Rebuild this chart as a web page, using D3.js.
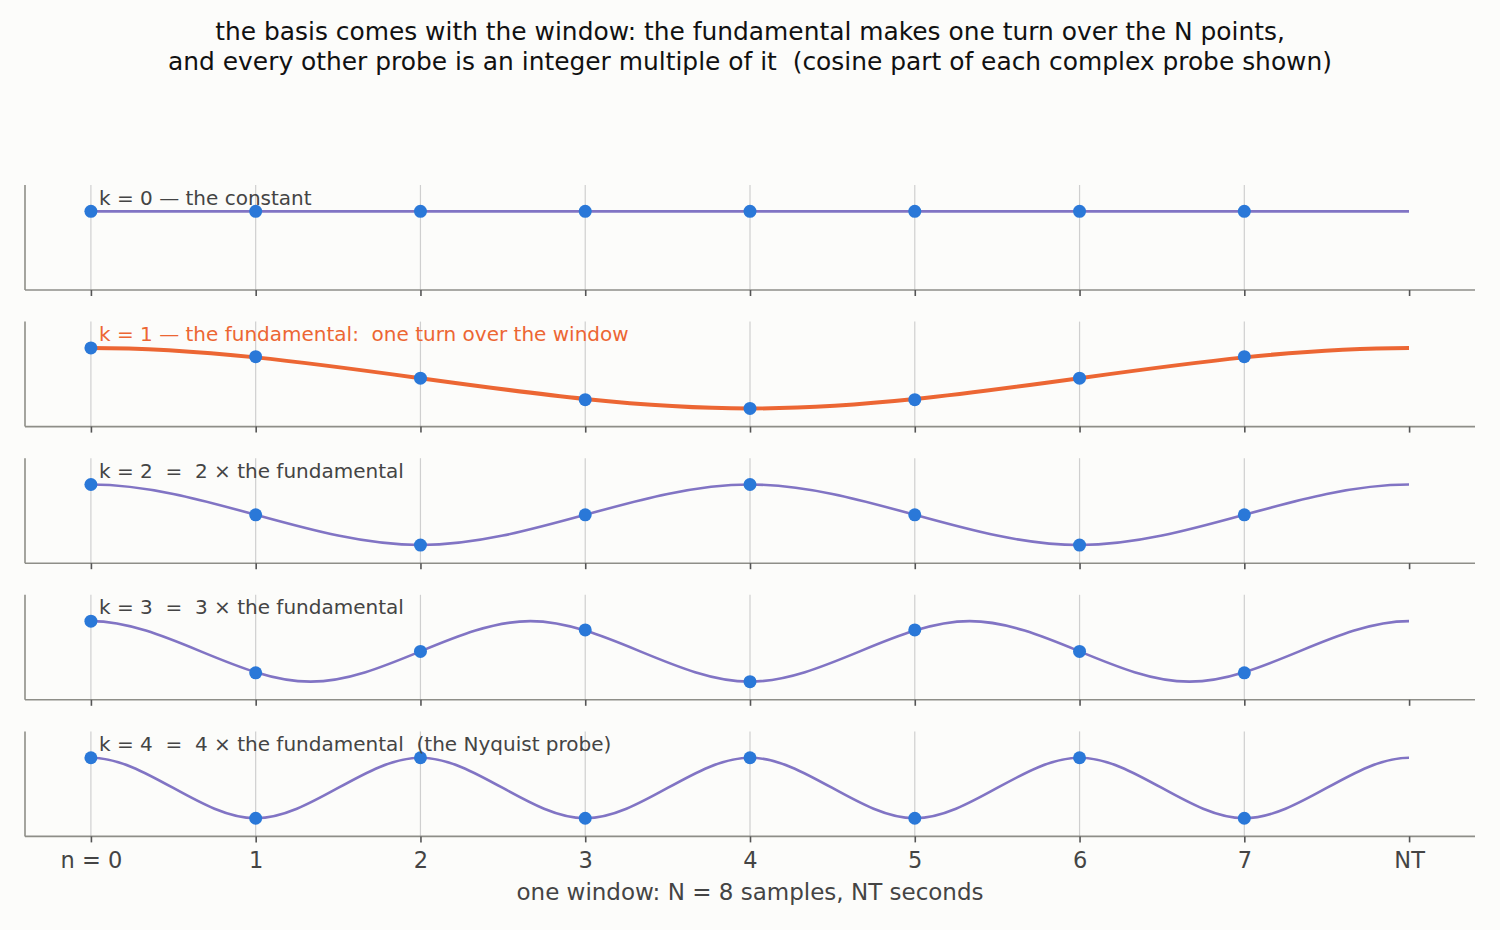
<!DOCTYPE html>
<html lang="en">
<head>
  <meta charset="utf-8">
  <title>basis comes with the window</title>
  <script src="https://d3js.org/d3.v7.min.js"></script>
  <style>
body { margin: 0; background: #fcfcfa; font-family: "DejaVu Sans", sans-serif; }
text { white-space: pre; font-family: "DejaVu Sans", sans-serif; }
</style>
</head>
<body>
<div id="chart"></div>
<script>

// tick labels along the window
var tickLabels = ["n = 0", "1", "2", "3", "4", "5", "6", "7", "NT"];
var sampleIdx = [0, 1, 2, 3, 4, 5, 6, 7];

// panel titles
var panelTitles = [
  "k = 0 \u2014 the constant",
  "k = 1 \u2014 the fundamental:  one turn over the window",
  "k = 2  =  2 \u00d7 the fundamental",
  "k = 3  =  3 \u00d7 the fundamental",
  "k = 4  =  4 \u00d7 the fundamental  (the Nyquist probe)"
];

// sample values (cosine part)
var samplesK0 = [1, 1, 1, 1, 1, 1, 1, 1];
var samplesK1 = [1, 0.71, 0, -0.71, -1, -0.71, 0, 0.71];
var samplesK2 = [1, 0, -1, 0, 1, 0, -1, 0];
var samplesK3 = [1, -0.71, 0, 0.71, -1, 0.71, 0, -0.71];
var samplesK4 = [1, -1, 1, -1, 1, -1, 1, -1];

// turning points of each continuous probe (position, value),
// one turning point past each end of the window so the ends come out flat
var curveK0 = [[0, 1], [8, 1]];
var curveK1 = [[-4, -1], [0, 1], [4, -1], [8, 1], [12, -1]];
var curveK2 = [[-2, -1], [0, 1], [2, -1], [4, 1], [6, -1], [8, 1], [10, -1]];
var curveK3 = [[-1.333, -1], [0, 1], [1.333, -1], [2.667, 1], [4, -1], [5.333, 1], [6.667, -1], [8, 1], [9.333, -1]];
var curveK4 = [[-1, -1], [0, 1], [1, -1], [2, 1], [3, -1], [4, 1], [5, -1], [6, 1], [7, -1], [8, 1], [9, -1]];

var samples = [samplesK0, samplesK1, samplesK2, samplesK3, samplesK4];
var curves = [curveK0, curveK1, curveK2, curveK3, curveK4];

var W = 1500, H = 930;
var left = 25, right = 1475;
var panelTop0 = 185, panelH = 105, panelStep = 136.6;

var purple = "#8174c4", orange = "#ec6633", blue = "#2a78d8";

var svg = d3.select("#chart").append("svg")
  .attr("width", W).attr("height", H)
  .style("background", "#fcfcfa");

// title
svg.append("text").attr("x", 750).attr("y", 40).attr("text-anchor", "middle")
  .style("font-size", "24.9px").attr("fill", "#111")
  .text("the basis comes with the window: the fundamental makes one turn over the N points,");
svg.append("text").attr("x", 750).attr("y", 70).attr("text-anchor", "middle")
  .style("font-size", "24.9px").attr("fill", "#111")
  .text("and every other probe is an integer multiple of it  (cosine part of each complex probe shown)");

var x = d3.scaleLinear().domain([-0.4, 8.4]).range([left, right]);

var defs = svg.append("defs");
defs.append("clipPath").attr("id", "win")
  .append("rect").attr("x", x(0)).attr("y", 0)
  .attr("width", x(8) - x(0)).attr("height", H);

samples.forEach(function(vals, k) {
  var top = panelTop0 + k * panelStep;
  var y = d3.scaleLinear().domain([-1.6, 1.87]).range([top + panelH, top]);
  var g = svg.append("g");

  // vertical gridlines at the samples
  g.selectAll(".grid").data(sampleIdx).enter().append("line")
    .attr("x1", function(d) { return x(d); }).attr("x2", function(d) { return x(d); })
    .attr("y1", top).attr("y2", top + panelH)
    .attr("stroke", "#cfcfcf").attr("stroke-width", 1.2);

  // x axis
  var ax = g.append("g").attr("transform", "translate(0," + (top + panelH) + ")")
    .call(d3.axisBottom(x).tickValues(d3.range(9)).tickSize(6).tickPadding(10)
      .tickFormat(function(d, i) { return k == 4 ? tickLabels[i] : ""; }));
  ax.select(".domain").attr("stroke", "#8e8e88").attr("stroke-width", 1.6)
    .attr("d", "M" + left + ",0H" + right);
  ax.selectAll(".tick line").attr("stroke", "#555").attr("stroke-width", 1.6);
  ax.selectAll(".tick text").attr("fill", "#444")
    .style("font-size", "22.5px").style("font-family", "DejaVu Sans");

  // left spine
  g.append("line").attr("x1", left).attr("x2", left)
    .attr("y1", top).attr("y2", top + panelH)
    .attr("stroke", "#8e8e88").attr("stroke-width", 1.6);

  // continuous probe
  g.append("path").datum(curves[k])
    .attr("clip-path", "url(#win)")
    .attr("d", d3.line().curve(d3.curveMonotoneX)
      .x(function(d) { return x(d[0]); })
      .y(function(d) { return y(d[1]); }))
    .attr("fill", "none")
    .attr("stroke", k == 1 ? orange : purple)
    .attr("stroke-width", k == 1 ? 4 : 2.6);

  // samples
  g.selectAll(".dot").data(vals).enter().append("circle")
    .attr("cx", function(d, i) { return x(sampleIdx[i]); })
    .attr("cy", function(d) { return y(d); })
    .attr("r", 6.5).attr("fill", blue);

  // label
  g.append("text").attr("x", 99).attr("y", top + 19.5)
    .style("font-size", "20px")
    .attr("fill", k == 1 ? orange : "#444")
    .text(panelTitles[k]);
});

svg.append("text").attr("x", 750).attr("y", 900).attr("text-anchor", "middle")
  .style("font-size", "23px").attr("fill", "#444")
  .text("one window: N = 8 samples, NT seconds");

</script>
</body>
</html>
